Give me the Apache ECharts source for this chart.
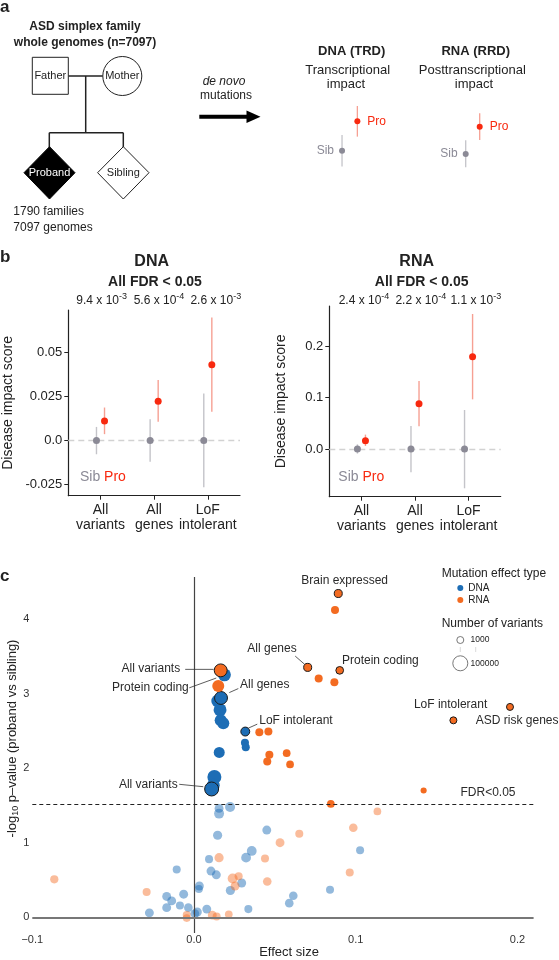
<!DOCTYPE html>
<html><head><meta charset="utf-8">
<script src="https://cdn.jsdelivr.net/npm/echarts@6/dist/echarts.min.js"></script>
<style>html,body{margin:0;padding:0;background:#fff}#c{width:559px;height:960px}</style>
</head><body><div id="c"></div>
<script>
const FONT = '"Liberation Sans", Arial, Helvetica, sans-serif';

// ---------- Panel a (schematic mini plots) ----------
const miniDnaSib = [0], miniDnaSibLow = [-1.0], miniDnaSibHigh = [1.0];
const miniDnaPro = [1.86], miniDnaProLow = [0.89], miniDnaProHigh = [2.83];
const miniRnaSib = [0], miniRnaSibLow = [-0.84], miniRnaSibHigh = [0.87];
const miniRnaPro = [1.73], miniRnaProLow = [0.89], miniRnaProHigh = [2.58];

// ---------- Panel b ----------
const bCategoryLabels = ['All\nvariants', 'All\ngenes', 'LoF\nintolerant'];
const dnaPValues = [['9.4', '-3'], ['5.6', '-4'], ['2.6', '-3']];
const rnaPValues = [['2.4', '-4'], ['2.2', '-4'], ['1.1', '-3']];
const dnaSib = [0, 0, 0];
const dnaSibLow = [-0.0078, -0.012, -0.0265];
const dnaSibHigh = [0.0077, 0.012, 0.0267];
const dnaPro = [0.0111, 0.0223, 0.0430];
const dnaProLow = [0.0036, 0.0106, 0.0163];
const dnaProHigh = [0.0187, 0.0343, 0.0697];
const rnaSib = [0, 0, 0];
const rnaSibLow = [-0.009, -0.0454, -0.0766];
const rnaSibHigh = [0.009, 0.0448, 0.076];
const rnaPro = [0.0162, 0.0883, 0.1799];
const rnaProLow = [0.0058, 0.0442, 0.0967];
const rnaProHigh = [0.028, 0.1326, 0.263];
const dnaTicks = [-0.025, 0, 0.025, 0.05];
const rnaTicks = [0, 0.1, 0.2];

// ---------- Panel c ----------
const cXTicks = [-0.1, 0, 0.1, 0.2];
const cYTicks = [0, 1, 2, 3, 4];
const fdrThreshold = 1.52;
// significant DNA (labelled last)
const dnaSigX = [0.0188, 0.0147, 0.0161, 0.0165, 0.0181, 0.0315, 0.0320, 0.0156, 0.0126, 0.0119, 0.0167, 0.0317, 0.0109];
const dnaSigY = [3.25, 2.90, 2.78, 2.64, 2.60, 2.34, 2.28, 2.21, 1.88, 1.77, 2.94, 2.49, 1.72];
const dnaSigN = [30000, 30000, 30000, 18000, 18000, 1800, 1800, 10000, 55000, 30000, 30000, 3000, 55000];
const dnaSigLabelled = [0, 0, 0, 0, 0, 0, 0, 0, 0, 0, 1, 1, 1];
// significant RNA
const rnaSigX = [0.0150, 0.0872, 0.0771, 0.0868, 0.0404, 0.0460, 0.0466, 0.0453, 0.0573, 0.0594, 0.0846, 0.1420, 0.0165, 0.0892, 0.0703, 0.0901, 0.1954, 0.1604];
const rnaSigY = [3.10, 4.12, 3.20, 3.15, 2.48, 2.49, 2.18, 2.09, 2.20, 2.05, 1.52, 1.70, 3.31, 4.34, 3.35, 3.31, 2.82, 2.64];
const rnaSigN = [18000, 1800, 1800, 1800, 1800, 1800, 1800, 1800, 1500, 1500, 1500, 600, 30000, 1800, 1800, 1500, 1000, 1000];
const rnaSigLabelled = [0, 0, 0, 0, 0, 0, 0, 0, 0, 0, 0, 0, 1, 1, 1, 1, 1, 1];
// not significant DNA
const dnaNsX = [0.0155, 0.0223, 0.0155, 0.0146, 0.0357, 0.0322, 0.0093, -0.0107, 0.0105, 0.0138, 0.0295, 0.0225, 0.0033, 0.0030, -0.0064, -0.0169, -0.0138, -0.0087, -0.0169, -0.0035, -0.0276, 0.0020, 0.0005, 0.0079, 0.0336, 0.0450, 0.1027, 0.0841, 0.0614, 0.0589];
const dnaNsY = [1.46, 1.48, 1.39, 1.10, 0.89, 0.80, 0.78, 0.64, 0.62, 0.57, 0.46, 0.36, 0.42, 0.38, 0.31, 0.28, 0.22, 0.16, 0.13, 0.13, 0.06, 0.07, 0.05, 0.11, 0.11, 1.17, 0.90, 0.37, 0.29, 0.19];
const dnaNsN = [3000, 5500, 5500, 3500, 5000, 5000, 1800, 1800, 3000, 3000, 3000, 3500, 3000, 1800, 3000, 3000, 3000, 1800, 3000, 2500, 3000, 3500, 3000, 3000, 1800, 3000, 1800, 1800, 2500, 2500];
// not significant RNA
const rnaNsX = [0.0155, 0.0239, 0.0276, 0.0254, -0.0293, -0.0045, -0.0045, 0.0113, 0.0140, 0.0215, -0.0864, 0.0532, 0.0651, 0.0439, 0.0453, 0.0985, 0.1134, 0.0963];
const rnaNsY = [0.80, 0.52, 0.55, 0.42, 0.34, 0.03, -0.01, 0.03, 0.01, 0.04, 0.51, 1.00, 1.12, 0.79, 0.48, 1.20, 1.42, 0.60];
const rnaNsN = [3500, 5500, 1800, 3000, 1800, 1800, 1500, 3000, 1800, 1500, 2000, 3000, 1800, 1800, 2500, 2500, 1500, 1800];
// text annotations (anchored on data points)
const cLabelText = ['All variants', 'Protein coding', 'All genes', 'LoF intolerant', 'All variants', 'All genes', 'Protein coding', 'Brain expressed', 'LoF intolerant', 'ASD risk genes', 'FDR<0.05'];
const cLabelX = [0.0165, 0.0150, 0.0167, 0.0317, 0.0109, 0.0703, 0.0901, 0.0892, 0.1954, 0.1604, 0.1818];
const cLabelY = [3.31, 3.10, 2.94, 2.49, 1.72, 3.35, 3.31, 4.34, 2.82, 2.64, 1.67];
const sizeLegendValues = [1000, 100000];

// ---------- layout / style (kept apart from data) ----------
const cLabelLayout = [
  {dx: -40.5, dy: -1.5, align: 'right', line: [-35.5, -1, -7, -1]},
  {dx: -29.5, dy: 1.3, align: 'right', line: [-29, 1.8, -2, -8]},
  {dx: 19, dy: -13.4, align: 'left', line: [8.3, -5.4, 17.3, -9.4]},
  {dx: 14, dy: -10.7, align: 'left', line: [3, -3.4, 12, -7.4]},
  {dx: -34, dy: -4.7, align: 'right', line: [-32.4, -4.7, -8.4, -2.3]},
  {dx: -11, dy: -18.3, align: 'right', line: [-12.5, -11.3, -3, -3]},
  {dx: 2.3, dy: -9.7, align: 'left'},
  {dx: 6.4, dy: -13, align: 'center'},
  {dx: -22.7, dy: -2.4, align: 'right'},
  {dx: 22.4, dy: 0.6, align: 'left'},
  {dx: 0, dy: 0, align: 'center'}
];
const DODGE = 0.075;
const RED = '#f8290f', RED_LIGHT = '#f6a093';
const GRAY = '#8b8a96', GRAY_LIGHT = '#c4c4c9';
const BLUE = '#1d6db5', ORANGE = '#f36b21';
const INK = '#222';

function sizeOf(n) { return 7 + (Math.log10(n) - 3) * 4; }

function T(x, y, text, o) {
  o = o || {};
  const al = o.align || 'center', va = o.va || 'middle';
  const st = {
    text: text, fill: o.fill || INK,
    font: (o.style || 'normal') + ' ' + (o.weight || 'normal') + ' ' + (o.size || 12) + 'px ' + FONT,
    textAlign: al, textVerticalAlign: va, align: al, verticalAlign: va
  };
  if (o.rich) st.rich = o.rich;
  return {type: 'text', x: x, y: y, rotation: o.rotation || 0, silent: true, style: st, z: 100};
}
function L(x1, y1, x2, y2, w, c) {
  return {type: 'line', silent: true, shape: {x1, y1, x2, y2}, style: {stroke: c || INK, lineWidth: w || 1.5}, z: 100};
}

function errSeries(gi, data, color, w) {
  return {
    type: 'custom', xAxisIndex: gi, yAxisIndex: gi, data: data, encode: {x: 0, y: [1, 2]}, silent: true, z: 2,
    renderItem: function (params, api) {
      const x = api.value(0);
      const a = api.coord([x, api.value(1)]), b = api.coord([x, api.value(2)]);
      return {type: 'line', shape: {x1: a[0], y1: a[1], x2: b[0], y2: b[1]}, style: {stroke: color, lineWidth: w}};
    }
  };
}
function dotSeries(gi, data, color, size, label) {
  return {type: 'scatter', xAxisIndex: gi, yAxisIndex: gi, data: data, symbol: 'circle', symbolSize: size,
    itemStyle: {color: color, opacity: 1}, silent: true, z: 3, label: label || {show: false}};
}
const barData = (lo, hi, off) => lo.map((l, i) => [i + 1 + off, l, hi[i]]);
const ptData = (v, off) => v.map((y, i) => [i + 1 + off, y]);

function cPoints(xs, ys, ns, labelled) {
  return xs.map((x, i) => ({
    value: [x, ys[i], ns[i]],
    itemStyle: labelled && labelled[i] ? {borderColor: '#1a1a1a', borderWidth: 1} : {borderWidth: 0}
  }));
}

const hidden = {show: false};
function bXAxis(gi) {
  return {gridIndex: gi, type: 'value', min: 0.4, max: 3.6,
    axisLine: {show: true, onZero: false, lineStyle: {color: INK, width: 1.2}},
    axisTick: {show: true, length: 4, customValues: [1, 2, 3], lineStyle: {color: INK, width: 1}},
    axisLabel: {customValues: [1, 2, 3], formatter: v => bCategoryLabels[Math.round(v) - 1], fontSize: 14, lineHeight: 15, margin: 7, color: INK, fontFamily: FONT},
    splitLine: hidden};
}
function bYAxis(gi, min, max, ticks, fmt, gap) {
  return {gridIndex: gi, type: 'value', min: min, max: max,
    axisLine: {show: true, onZero: false, lineStyle: {color: INK, width: 1.2}},
    axisTick: {show: true, length: 4, customValues: ticks, lineStyle: {color: INK, width: 1}},
    axisLabel: {customValues: ticks, formatter: fmt, fontSize: 13, color: INK, margin: 6, fontFamily: FONT},
    splitLine: hidden,
    name: 'Disease impact score', nameLocation: 'middle', nameGap: gap,
    nameTextStyle: {fontSize: 14, color: INK, fontFamily: FONT}};
}
function zeroLine(gi) {
  return {type: 'scatter', xAxisIndex: gi, yAxisIndex: gi, data: [], z: 1, silent: true,
    markLine: {silent: true, symbol: ['none', 'none'], label: {show: false}, animation: false, z: 1,
      lineStyle: {color: '#d2d2d2', width: 1.4, type: [6, 4]}, data: [{yAxis: 0}]}};
}

// ---------- graphic elements ----------
const supRich = {
  n: {fontSize: 12, fontFamily: FONT, lineHeight: 18, verticalAlign: 'middle', fill: INK},
  s: {fontSize: 9, fontFamily: FONT, lineHeight: 10, verticalAlign: 'top', fill: INK}
};
const G = [];
G.push(T(0, 7, 'a', {weight: 'bold', size: 17, align: 'left'}));
G.push(T(0, 257, 'b', {weight: 'bold', size: 17, align: 'left'}));
G.push(T(0, 576, 'c', {weight: 'bold', size: 17, align: 'left'}));
// pedigree
G.push(T(85, 26.7, 'ASD simplex family', {weight: 'bold', size: 12}));
G.push(T(85, 42.3, 'whole genomes (n=7097)', {weight: 'bold', size: 12}));
G.push(L(68.3, 76, 102.8, 76));
G.push(L(85.7, 76, 85.7, 132.7));
G.push(L(49.3, 132.7, 123.3, 132.7));
G.push(L(49.3, 132.7, 49.3, 147));
G.push(L(123.3, 132.7, 123.3, 147));
G.push({type: 'rect', silent: true, shape: {x: 32.3, y: 57.3, width: 36, height: 37}, style: {fill: '#fff', stroke: INK, lineWidth: 1}, z: 100});
G.push(T(50.3, 76, 'Father', {size: 11}));
G.push({type: 'circle', silent: true, shape: {cx: 122.3, cy: 76, r: 19.5}, style: {fill: '#fff', stroke: INK, lineWidth: 1}, z: 100});
G.push(T(122.3, 76, 'Mother', {size: 11}));
G.push({type: 'polygon', silent: true, shape: {points: [[49.5, 146.7], [75, 172.7], [49.5, 199], [24, 172.7]]}, style: {fill: '#000', stroke: '#000', lineWidth: 1}, z: 100});
G.push(T(49.5, 172.7, 'Proband', {size: 11, fill: '#fff'}));
G.push({type: 'polygon', silent: true, shape: {points: [[123.3, 146.7], [149, 172.7], [123.3, 199], [97.6, 172.7]]}, style: {fill: '#fff', stroke: INK, lineWidth: 1}, z: 100});
G.push(T(123.3, 172.7, 'Sibling', {size: 11}));
G.push(T(13.3, 212, '1790 families', {size: 12, align: 'left'}));
G.push(T(13.3, 228, '7097 genomes', {size: 12, align: 'left'}));
G.push(T(224, 81.7, 'de novo', {size: 12, style: 'italic'}));
G.push(T(226, 95.7, 'mutations', {size: 12}));
G.push(L(199.3, 116.7, 250, 116.7, 4, '#000'));
G.push({type: 'polygon', silent: true, shape: {points: [[246.5, 110.5], [260.5, 116.7], [246.5, 122.9]]}, style: {fill: '#000'}, z: 100});
G.push(T(351.7, 51, 'DNA (TRD)', {weight: 'bold', size: 13}));
G.push(T(347.7, 70.7, 'Transcriptional', {size: 13}));
G.push(T(346, 84.3, 'impact', {size: 13}));
G.push(T(475.7, 51, 'RNA (RRD)', {weight: 'bold', size: 13}));
G.push(T(472.3, 70.7, 'Posttranscriptional', {size: 13}));
G.push(T(474, 84.3, 'impact', {size: 13}));
// panel b headers
G.push(T(151.7, 261.7, 'DNA', {weight: 'bold', size: 16}));
G.push(T(155, 282.3, 'All FDR < 0.05', {weight: 'bold', size: 14}));
G.push(T(416.7, 261.7, 'RNA', {weight: 'bold', size: 16}));
G.push(T(421.7, 282, 'All FDR < 0.05', {weight: 'bold', size: 14}));
const dnaPx = [101.7, 159, 215.8], rnaPx = [364, 420.8, 475.8];
dnaPValues.forEach((p, i) => G.push(T(dnaPx[i], 301, '{n|' + p[0] + ' x 10}{s|' + p[1] + '}', {size: 12, rich: supRich})));
rnaPValues.forEach((p, i) => G.push(T(rnaPx[i], 301, '{n|' + p[0] + ' x 10}{s|' + p[1] + '}', {size: 12, rich: supRich})));
const sibProRich = {
  s: {fontSize: 14, fontFamily: FONT, fill: GRAY},
  p: {fontSize: 14, fontFamily: FONT, fill: RED}
};
G.push(T(80, 477.3, '{s|Sib} {p|Pro}', {size: 14, align: 'left', rich: sibProRich}));
G.push(T(338.3, 476.7, '{s|Sib} {p|Pro}', {size: 14, align: 'left', rich: sibProRich}));
// panel c titles
G.push(T(12.5, 738.5, '{n|-log}{b|10}{n| p\u2013value (proband vs sibling)}', {size: 13, rotation: Math.PI / 2, rich: {
  n: {fontSize: 13, fontFamily: FONT, lineHeight: 16, verticalAlign: 'middle', fill: INK},
  b: {fontSize: 9, fontFamily: FONT, lineHeight: 9, verticalAlign: 'bottom', fill: INK}
}}));
G.push(T(289, 952, 'Effect size', {size: 13}));
// legend titles and size legend
G.push(T(441.7, 574, 'Mutation effect type', {size: 12, align: 'left'}));
G.push(T(441.7, 624, 'Number of variants', {size: 12, align: 'left'}));
const sizeLegendY = [640, 663.3];
sizeLegendValues.forEach((n, i) => {
  G.push({type: 'circle', silent: true, shape: {cx: 460.3, cy: sizeLegendY[i], r: sizeOf(n) / 2}, style: {fill: '#fff', stroke: '#555', lineWidth: 0.8}, z: 100});
  G.push(T(470.5, sizeLegendY[i], String(n), {size: 8.5, align: 'left'}));
});
G.push(L(460.3, 647, 460.3, 652, 0.8, '#cfcfcf'));
G.push(L(475.7, 647, 475.7, 652, 0.8, '#cfcfcf'));

const option = {
  animation: false,
  backgroundColor: '#fff',
  textStyle: {fontFamily: FONT},
  legend: {
    data: ['DNA', 'RNA'], orient: 'vertical', left: 457.3, top: 583, padding: 0,
    icon: 'circle', itemWidth: 6, itemHeight: 6, itemGap: 2, selectedMode: false,
    textStyle: {fontSize: 10, color: INK, fontFamily: FONT}
  },
  grid: [
    {left: 68.3, top: 310, width: 171.7, height: 185.7, containLabel: false, outerBoundsMode: 'none'},
    {left: 329.3, top: 306, width: 171.4, height: 190.7, containLabel: false, outerBoundsMode: 'none'},
    {left: 32.3, top: 577.1, width: 501.3, height: 355.9, containLabel: false, outerBoundsMode: 'none'},
    {left: 326.7, top: 103.3, width: 46, height: 94.8, containLabel: false, outerBoundsMode: 'none'},
    {left: 451.7, top: 106.6, width: 42, height: 94.8, containLabel: false, outerBoundsMode: 'none'}
  ],
  xAxis: [
    bXAxis(0), bXAxis(1),
    {gridIndex: 2, type: 'value', min: -0.1, max: 0.21,
      axisLine: {show: false, onZero: false}, axisTick: hidden, splitLine: hidden,
      axisLabel: {customValues: cXTicks, formatter: v => v < 0 ? '\u2212' + Math.abs(v).toFixed(1) : v.toFixed(1), fontSize: 11, color: '#333', margin: 1, fontFamily: FONT}},
    {gridIndex: 3, type: 'value', min: 0, max: 3, show: false},
    {gridIndex: 4, type: 'value', min: 0, max: 3, show: false}
  ],
  yAxis: [
    bYAxis(0, -0.0313, 0.074, dnaTicks, v => v === 0 ? '0.0' : String(v), 53),
    bYAxis(1, -0.093, 0.2786, rnaTicks, v => v.toFixed(1), 41.3),
    {gridIndex: 2, type: 'value', min: -0.21, max: 4.56,
      axisLine: {show: false, onZero: false}, axisTick: hidden, splitLine: hidden,
      axisLabel: {customValues: cYTicks, formatter: v => String(v), fontSize: 11, color: '#333', margin: 3, fontFamily: FONT}},
    {gridIndex: 3, type: 'value', min: -3, max: 3, show: false},
    {gridIndex: 4, type: 'value', min: -3, max: 3, show: false}
  ],
  series: [
    // panel b DNA
    zeroLine(0),
    errSeries(0, barData(dnaSibLow, dnaSibHigh, -DODGE), GRAY_LIGHT, 1.4),
    errSeries(0, barData(dnaProLow, dnaProHigh, DODGE), RED_LIGHT, 1.4),
    dotSeries(0, ptData(dnaSib, -DODGE), GRAY, 7),
    dotSeries(0, ptData(dnaPro, DODGE), RED, 7),
    // panel b RNA
    zeroLine(1),
    errSeries(1, barData(rnaSibLow, rnaSibHigh, -DODGE), GRAY_LIGHT, 1.4),
    errSeries(1, barData(rnaProLow, rnaProHigh, DODGE), RED_LIGHT, 1.4),
    dotSeries(1, ptData(rnaSib, -DODGE), GRAY, 7),
    dotSeries(1, ptData(rnaPro, DODGE), RED, 7),
    // panel a mini plots
    errSeries(3, barData(miniDnaSibLow, miniDnaSibHigh, 0), GRAY_LIGHT, 1.3),
    errSeries(3, barData(miniDnaProLow, miniDnaProHigh, 1), RED_LIGHT, 1.3),
    dotSeries(3, ptData(miniDnaSib, 0), GRAY, 6, {show: true, position: 'left', distance: 5, formatter: 'Sib', color: GRAY, fontSize: 12, fontFamily: FONT}),
    dotSeries(3, ptData(miniDnaPro, 1), RED, 6, {show: true, position: 'right', distance: 7, formatter: 'Pro', color: RED, fontSize: 12, fontFamily: FONT}),
    errSeries(4, barData(miniRnaSibLow, miniRnaSibHigh, 0), GRAY_LIGHT, 1.3),
    errSeries(4, barData(miniRnaProLow, miniRnaProHigh, 1), RED_LIGHT, 1.3),
    dotSeries(4, ptData(miniRnaSib, 0), GRAY, 6, {show: true, position: 'left', distance: 5, formatter: 'Sib', color: GRAY, fontSize: 12, fontFamily: FONT}),
    dotSeries(4, ptData(miniRnaPro, 1), RED, 6, {show: true, position: 'right', distance: 7, formatter: 'Pro', color: RED, fontSize: 12, fontFamily: FONT}),
    // panel c reference lines
    {type: 'scatter', xAxisIndex: 2, yAxisIndex: 2, data: [], z: 1, silent: true,
      markLine: {silent: true, symbol: ['none', 'none'], label: {show: false}, animation: false,
        data: [
          {xAxis: 0, lineStyle: {color: '#444', width: 1.2, type: 'solid'}},
          {yAxis: 0, lineStyle: {color: '#777', width: 2, type: 'solid'}},
          {yAxis: fdrThreshold, lineStyle: {color: '#222', width: 1, type: [4, 3]}}
        ]}},
    // panel c points
    {name: 'DNA ns', type: 'scatter', xAxisIndex: 2, yAxisIndex: 2, z: 2, silent: true, symbolSize: v => sizeOf(v[2]),
      itemStyle: {color: BLUE, opacity: 0.48}, data: cPoints(dnaNsX, dnaNsY, dnaNsN)},
    {name: 'RNA ns', type: 'scatter', xAxisIndex: 2, yAxisIndex: 2, z: 2, silent: true, symbolSize: v => sizeOf(v[2]),
      itemStyle: {color: ORANGE, opacity: 0.45}, data: cPoints(rnaNsX, rnaNsY, rnaNsN)},
    {name: 'DNA', type: 'scatter', xAxisIndex: 2, yAxisIndex: 2, z: 3, silent: true, symbolSize: v => sizeOf(v[2]),
      itemStyle: {color: BLUE, opacity: 1}, data: cPoints(dnaSigX, dnaSigY, dnaSigN, dnaSigLabelled)},
    {name: 'RNA', type: 'scatter', xAxisIndex: 2, yAxisIndex: 2, z: 4, silent: true, symbolSize: v => sizeOf(v[2]),
      itemStyle: {color: ORANGE, opacity: 1}, data: cPoints(rnaSigX, rnaSigY, rnaSigN, rnaSigLabelled)},
    // panel c annotations
    {type: 'custom', xAxisIndex: 2, yAxisIndex: 2, z: 5, silent: true, encode: {x: 0, y: 1},
      data: cLabelX.map((x, i) => [x, cLabelY[i]]),
      renderItem: function (params, api) {
        const i = params.dataIndex, lay = cLabelLayout[i];
        const p = api.coord([api.value(0), api.value(1)]);
        const ch = [{type: 'text', x: p[0] + lay.dx, y: p[1] + lay.dy,
          style: {text: cLabelText[i], fill: '#2a2a2a', font: '12px ' + FONT, textAlign: lay.align, align: lay.align, textVerticalAlign: 'middle', verticalAlign: 'middle'}}];
        if (lay.line) ch.push({type: 'line', shape: {x1: p[0] + lay.line[0], y1: p[1] + lay.line[1], x2: p[0] + lay.line[2], y2: p[1] + lay.line[3]},
          style: {stroke: '#333', lineWidth: 0.8}});
        return {type: 'group', children: ch};
      }}
  ],
  graphic: {elements: G}
};

const chart = echarts.init(document.getElementById('c'), null, {renderer: 'canvas', width: 559, height: 960});
chart.setOption(option);
</script>
</body></html>
